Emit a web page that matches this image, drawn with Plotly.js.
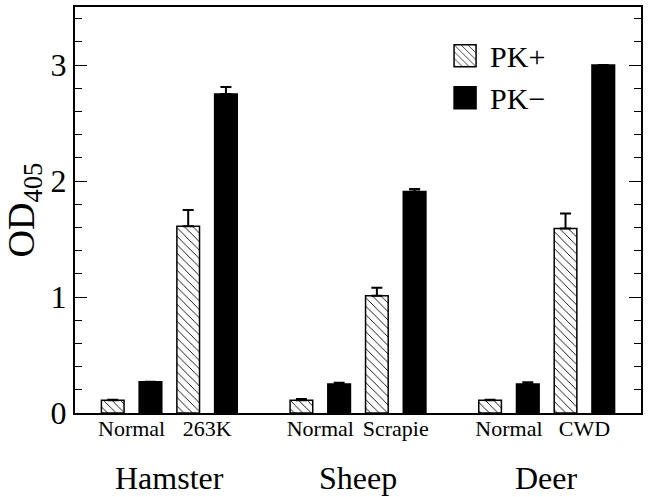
<!DOCTYPE html>
<html>
<head>
<meta charset="utf-8">
<script src="https://cdn.plot.ly/plotly-3.0.1.min.js"></script>
<style>html,body{margin:0;padding:0;background:#fff;}#chart{width:649px;height:497px;}</style>
</head>
<body>
<div id="chart"></div>
<script>
const groups = ['Hamster', 'Sheep', 'Deer'];
const conditions = ['Normal', '263K', 'Normal', 'Scrapie', 'Normal', 'CWD'];
const pkPlus = [0.11, 1.61, 0.11, 1.01, 0.11, 1.59];
const pkPlusErr = [0.005, 0.14, 0.01, 0.07, 0.005, 0.13];
const pkMinus = [0.27, 2.75, 0.25, 1.91, 0.25, 3.0];
const pkMinusErr = [0.0, 0.06, 0.01, 0.02, 0.015, 0.0];
const seriesNames = ['PK+', 'PK\u2212'];

// slot layout: each group has 2 conditions x 2 series, plus one empty slot between groups
const basePos = conditions.map((c, i) => Math.floor(i / 2) * 5 + (i % 2) * 2);
const xPlus = basePos.map(b => b);
const xMinus = basePos.map(b => b + 1);
const tickPos = basePos.map(b => b + 0.5);
const groupPos = groups.map((g, j) => j * 5 + 1.5);

const serif = 'Liberation Serif, Times New Roman, serif';

const traces = [
  {
    type: 'bar', name: seriesNames[0], x: xPlus, y: pkPlus, width: 0.6,
    marker: { color: '#fff', line: { color: '#000', width: 1.5 },
      pattern: { shape: '\\', fgcolor: '#000', bgcolor: '#fff', size: 6, solidity: 0.15 } },
    error_y: { type: 'data', symmetric: false, array: pkPlusErr, arrayminus: pkPlusErr.map(() => 0),
      color: '#000', thickness: 2, width: 5.5 }
  },
  {
    type: 'bar', name: seriesNames[1], x: xMinus, y: pkMinus, width: 0.6,
    marker: { color: '#000', line: { color: '#000', width: 1.5 } },
    error_y: { type: 'data', symmetric: false, array: pkMinusErr, arrayminus: pkMinusErr.map(() => 0),
      color: '#000', thickness: 2, width: 5.5 }
  }
];

const layout = {
  width: 649, height: 497,
  margin: { l: 75, r: 8, t: 7, b: 84 },
  paper_bgcolor: '#fff', plot_bgcolor: '#fff',
  font: { family: serif, color: '#000' },
  showlegend: true,
  legend: { x: 0.645, y: 0.944, xanchor: 'left', yanchor: 'top', bgcolor: 'rgba(0,0,0,0)',
    font: { family: serif, size: 30, color: '#000' }, itemwidth: 40 },
  xaxis: {
    range: [-1, 14], showgrid: false, zeroline: false,
    showline: true, linecolor: '#000', linewidth: 2, mirror: true,
    ticks: '', tickmode: 'array', tickvals: tickPos, ticktext: conditions,
    ticklabelstandoff: -5,
    tickfont: { family: serif, size: 22, color: '#000' }
  },
  yaxis: {
    range: [0, 3.5], showgrid: false, zeroline: false,
    showline: true, linecolor: '#000', linewidth: 2, mirror: 'allticks',
    ticks: 'inside', ticklen: 12, tickwidth: 1, tickcolor: '#000',
    tickmode: 'linear', tick0: 0, dtick: 1,
    minor: { ticks: 'inside', ticklen: 7, tickwidth: 1, tickcolor: '#000', dtick: 0.2, tick0: 0 },
    tickfont: { family: serif, size: 32, color: '#000' },
    title: { text: 'OD<sub>405</sub>', font: { family: serif, size: 38, color: '#000' }, standoff: 8 }
  },
  annotations: groups.map((g, j) => ({
    x: groupPos[j], xref: 'x', y: -0.16, yref: 'paper', text: g, showarrow: false,
    xanchor: 'center', yanchor: 'middle', font: { family: serif, size: 32, color: '#000' }
  }))
};

Plotly.newPlot('chart', traces, layout, { displayModeBar: false, staticPlot: true }).then(gd => {
  document.querySelectorAll('.legend .legendpoints path').forEach(p => {
    p.setAttribute('d', 'M11,11H-11V-11H11Z');
  });
});
</script>
</body>
</html>
